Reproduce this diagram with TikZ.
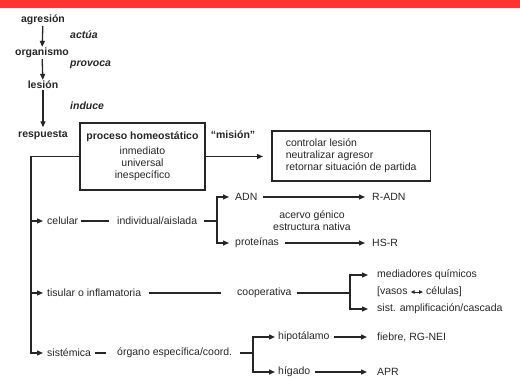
\documentclass[tikz,border=0pt]{standalone}
\usepackage{fontspec}
\setmainfont{Liberation Sans}
\usetikzlibrary{arrows.meta}
\definecolor{redbar}{HTML}{FF3333}
\definecolor{ink}{HTML}{262626}
\begin{document}
\begin{tikzpicture}[x=1pt,y=-1pt,
  txt/.style={inner sep=1pt, font=\fontsize{10.5}{12}\selectfont, text=ink},
  bld/.style={inner sep=1pt, font=\fontsize{10.5}{12}\selectfont\bfseries, text=ink},
  itb/.style={inner sep=1pt, font=\fontsize{10.5}{12}\selectfont\bfseries\itshape, text=ink},
  ln/.style={draw=ink, line width=1.3pt},
  arr/.style={ln, -{Triangle[length=6pt,width=5pt]}},
  box/.style={draw=ink, line width=1.6pt, text=ink, font=\fontsize{10.5}{12}\selectfont}]
\useasboundingbox (0,0) rectangle (520,380);
\fill[redbar] (0,0) rectangle (520,8);

% left chain
\node[bld] (agr) at (43,20) {agresión};
\node[bld] (org) at (42,53) {organismo};
\node[bld] (les) at (43,85) {lesión};
\node[bld] (resp) at (43,135) {respuesta};
\node[itb, anchor=west] (act) at (69,35) {actúa};
\node[itb, anchor=west] (prov) at (69,65) {provoca};
\node[itb, anchor=west] (ind) at (69,106) {induce};
\draw[arr] (agr) -- (org);
\draw[arr] (org) -- (les);
\draw[arr, shorten >=2pt] (les) -- (resp);

% boxes
\node[box, align=center, minimum width=125pt, minimum height=67pt] (hb) at (142.5,156.5)
  {\textbf{proceso homeostático}\\[3pt]inmediato\\universal\\inespecífico};
\node[bld] (mis) at (233,135) {“misión”};
\node[box, align=left, anchor=west, inner xsep=14pt, minimum height=50pt] (mb) at (271,156)
  {controlar lesión\\neutralizar agresor\\retornar situación de partida};
\draw[arr, shorten >=8pt] (hb.east) -- (mb.west |- hb.east);

% trunk
\node[txt, anchor=west] (cel) at (46,221) {celular};
\node[txt, anchor=west] (tis) at (46,293) {tisular o inflamatoria};
\node[txt, anchor=west] (sis) at (46,353) {sistémica};
\coordinate (tr) at (31,156.5);
\draw[arr, shorten >=3pt] (hb.west) -- (tr) |- (sis.west);
\draw[arr, shorten >=3pt] (tr |- cel.west) -- (cel.west);
\draw[arr, shorten >=3pt] (tr |- tis.west) -- (tis.west);

% celular
\node[txt, anchor=west] (indv) at (116,221) {individual/aislada};
\draw[ln, shorten <=2pt, shorten >=7pt] (cel) -- (indv);
\coordinate (b1) at (217,221);
\draw[ln, shorten <=6pt] (indv.east) -- (b1);
\node[txt, anchor=west] (adn) at (234,197) {ADN};
\node[txt, anchor=west] (prot) at (234,243) {proteínas};
\draw[arr, shorten >=5pt] (b1) |- (adn.west);
\draw[arr, shorten >=5pt] (b1) |- (prot.west);
\node[txt, anchor=west] (radn) at (371,197) {R-ADN};
\node[txt, anchor=west] (hsr) at (371,243) {HS-R};
\draw[arr, shorten <=4pt, shorten >=6pt] (adn) -- (radn);
\draw[arr, shorten <=5pt, shorten >=6pt] (prot) -- (hsr);
\node[txt, align=center] (acv) at (312,221) {acervo génico\\estructura nativa};

% tisular
\node[txt, anchor=west] (coop) at (236,293) {cooperativa};
\draw[ln, shorten <=7pt, shorten >=15pt] (tis) -- (coop);
\coordinate (b2) at (350,293);
\draw[ln, shorten <=4pt] (coop.east) -- (b2);
\node[txt, anchor=west] (med) at (376,275) {mediadores químicos};
\node[txt, anchor=west] (vas) at (376,292) {[vasos};
\node[txt, anchor=west] (cels) at (425,292) {células]};
\draw[ln, line width=1pt, {Triangle[length=4pt,width=3.5pt]}-{Triangle[length=4pt,width=3.5pt]}, shorten <=2pt, shorten >=2pt] (vas) -- (cels);
\node[txt, anchor=west] (sist) at (376,309) {sist. amplificación/cascada};
\draw[arr, shorten >=8pt] (b2) |- (med.west);
\draw[arr, shorten >=8pt] (b2) |- (sist.west);

% sistemica
\node[txt, anchor=west] (org2) at (116,353) {órgano específica/coord.};
\draw[ln, shorten <=3pt, shorten >=10pt] (sis) -- (org2);
\coordinate (b3) at (253,353);
\draw[ln, shorten <=7pt] (org2.east) -- (b3);
\node[txt, anchor=west] (hip) at (277,337) {hipotálamo};
\node[txt, anchor=west] (hig) at (277,372) {hígado};
\draw[arr, shorten >=2pt] (b3) |- (hip.west);
\draw[arr, shorten >=2pt] (b3) |- (hig.west);
\node[txt, anchor=west] (fie) at (376,337) {fiebre, RG-NEI};
\node[txt, anchor=west] (apr) at (376,372) {APR};
\draw[arr, shorten <=3pt, shorten >=9pt] (hip) -- (fie);
\draw[arr, shorten <=3pt, shorten >=9pt] (hig) -- (apr);
\end{tikzpicture}
\end{document}
